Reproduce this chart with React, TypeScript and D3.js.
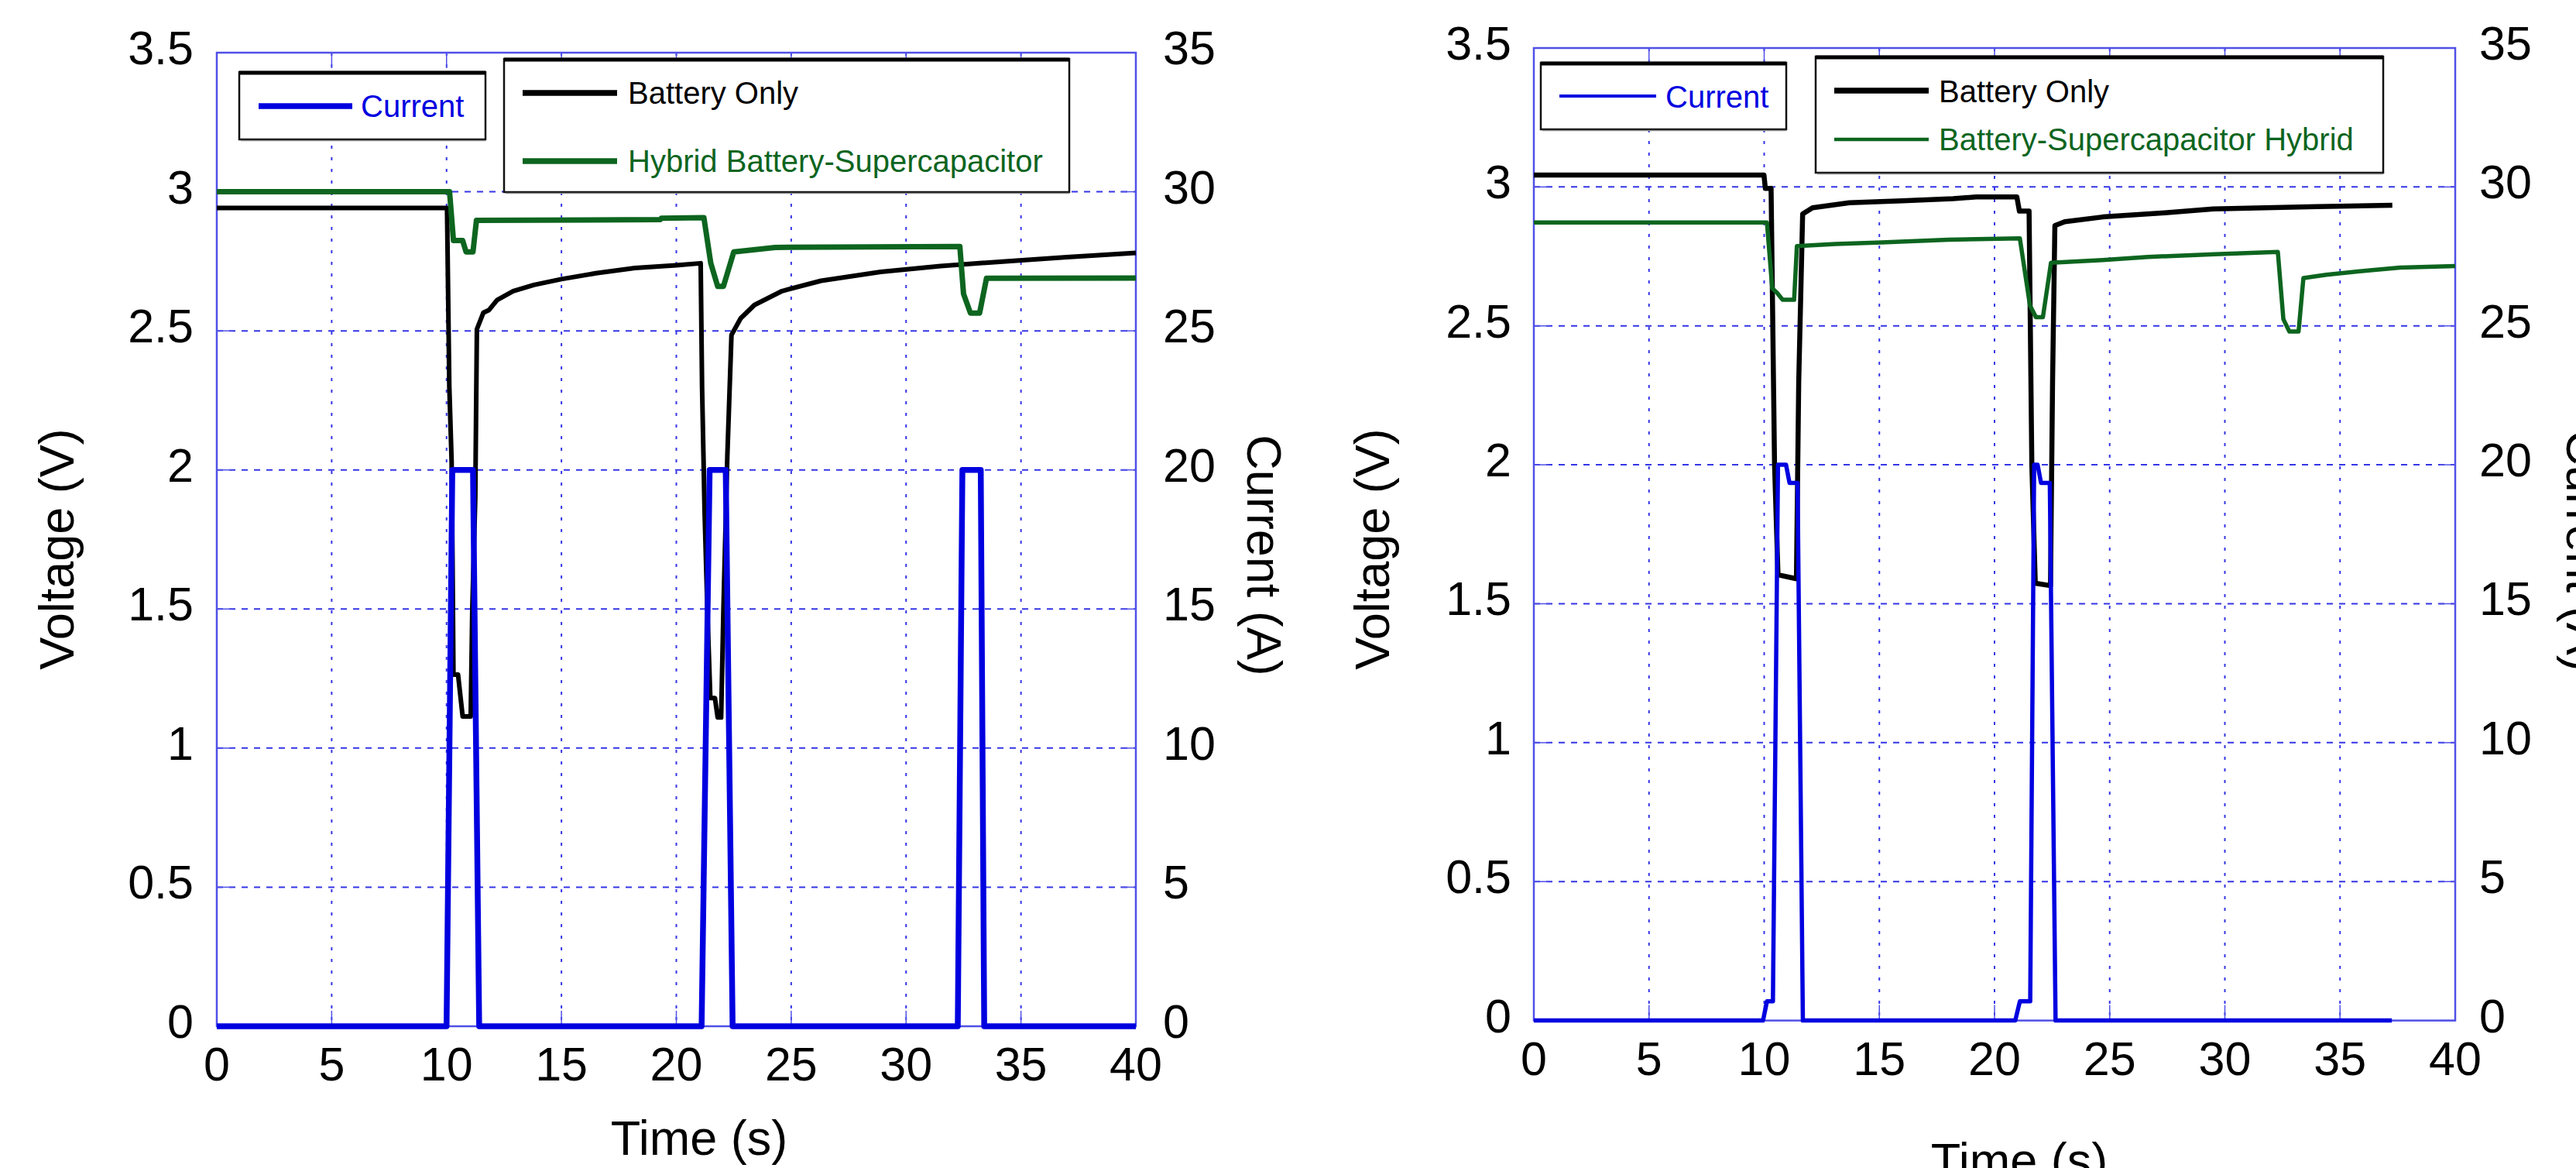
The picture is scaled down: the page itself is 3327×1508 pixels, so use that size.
import React from 'react';
import * as d3 from 'd3';

// ---------- data ----------
const timeTicks = [0, 5, 10, 15, 20, 25, 30, 35, 40];
const voltTicks = [0, 0.5, 1, 1.5, 2, 2.5, 3, 3.5];
const voltTickLabels = ['0', '0.5', '1', '1.5', '2', '2.5', '3', '3.5'];
const currentTicks = [0, 5, 10, 15, 20, 25, 30, 35];
const gridTimes = [5, 10, 15, 20, 25, 30, 35];
const gridVolts = [0.5, 1, 1.5, 2, 2.5, 3];

// Left panel: [time s, voltage V]
const leftBattery: [number, number][] = [
  [0, 2.942], [10.02, 2.942], [10.12, 2.3], [10.22, 2.03], [10.26, 1.68], [10.3, 1.264], [10.5, 1.264],
  [10.7, 1.114], [11.05, 1.114], [11.12, 1.5], [11.25, 1.9], [11.32, 2.506], [11.6, 2.565], [11.85, 2.575],
  [12.2, 2.611], [12.9, 2.643], [13.8, 2.665], [15.0, 2.686], [16.5, 2.707], [18.2, 2.726], [20.0, 2.736],
  [21.06, 2.743], [21.12, 2.3], [21.23, 1.85], [21.35, 1.5], [21.48, 1.18], [21.68, 1.18], [21.8, 1.11],
  [21.95, 1.11], [22.05, 1.5], [22.22, 2.05], [22.4, 2.485], [22.8, 2.545], [23.4, 2.593], [24.6, 2.643],
  [26.3, 2.68], [28.9, 2.712], [31.5, 2.733], [34.2, 2.749], [37.0, 2.765], [40, 2.78],
];
const leftHybrid: [number, number][] = [
  [0, 3.0], [10.13, 3.0], [10.3, 2.825], [10.7, 2.825], [10.85, 2.784], [11.15, 2.784], [11.3, 2.897],
  [19.3, 2.9], [19.35, 2.905], [21.2, 2.907], [21.5, 2.743], [21.8, 2.66], [22.05, 2.66], [22.5, 2.784],
  [24.3, 2.8], [32.34, 2.803], [32.5, 2.633], [32.8, 2.564], [33.2, 2.564], [33.5, 2.689], [40, 2.69],
];
// [time s, current A]
const leftCurrent: [number, number][] = [
  [0, 0], [10.0, 0], [10.25, 20], [11.15, 20], [11.42, 0], [21.1, 0], [21.45, 20], [22.15, 20],
  [22.45, 0], [32.25, 0], [32.45, 20], [33.25, 20], [33.4, 0], [40, 0],
];

// Right panel
const rightBattery: [number, number][] = [
  [0, 3.043], [9.99, 3.043], [10.05, 2.995], [10.3, 2.995], [10.45, 2.0], [10.6, 1.604], [11.4, 1.59],
  [11.5, 2.3], [11.67, 2.903], [12.1, 2.925], [13.7, 2.943], [16.0, 2.95], [18.2, 2.958], [19.2, 2.964],
  [20.97, 2.964], [21.08, 2.913], [21.5, 2.913], [21.62, 2.0], [21.77, 1.574], [22.43, 1.565],
  [22.52, 2.3], [22.62, 2.861], [23.05, 2.875], [24.7, 2.892], [27.4, 2.907], [29.5, 2.921],
  [34.0, 2.929], [37.27, 2.934],
];
const rightHybrid: [number, number][] = [
  [0, 2.872], [10.12, 2.872], [10.35, 2.635], [10.55, 2.62], [10.8, 2.594], [11.3, 2.594], [11.42, 2.787],
  [13.1, 2.795], [15.1, 2.8], [18.0, 2.81], [21.1, 2.815], [21.54, 2.573], [21.8, 2.531], [22.1, 2.531],
  [22.45, 2.727], [24.7, 2.737], [26.66, 2.748], [29.55, 2.758], [32.3, 2.766], [32.54, 2.524],
  [32.8, 2.48], [33.2, 2.48], [33.41, 2.672], [34.4, 2.684], [36.3, 2.7], [37.6, 2.71], [40, 2.715],
];
const rightCurrent: [number, number][] = [
  [0, 0], [9.95, 0], [10.12, 0.69], [10.38, 0.69], [10.6, 20], [10.95, 20], [11.1, 19.35], [11.45, 19.35],
  [11.68, 0], [20.9, 0], [21.1, 0.69], [21.55, 0.69], [21.72, 20], [21.87, 20], [22.02, 19.35],
  [22.4, 19.35], [22.65, 0], [37.25, 0],
];

const legendLeft = ['Current', 'Battery Only', 'Hybrid Battery-Supercapacitor'];
const legendRight = ['Current', 'Battery Only', 'Battery-Supercapacitor Hybrid'];

// ---------- style ----------
const FONT = '"Liberation Sans", Arial, Helvetica, sans-serif';
const BLUE = '#0000e0';
const GREEN = '#0d651f';
const GRID = '#3535e6';
const AXIS = '#5050e8';

type Cfg = {
  x0: number; x1: number; yT: number; yB: number;
  battery: [number, number][]; hybrid: [number, number][]; current: [number, number][];
  wB: number; wH: number; wC: number;
  labels: string[];
  box1: { x: number; y: number; w: number; h: number; lx0: number; lx1: number; ly: number; tx: number; tb: number };
  box2: { x: number; y: number; w: number; h: number; lx0: number; lx1: number; ly1: number; tb1: number; ly2: number; tb2: number; tx: number };
  lw: [number, number, number];
  vLabel: [number, number]; cLabel: [number, number]; tLabel: [number, number];
  leftOff: number; rightOff: number;
};

const panels: Cfg[] = [
  {
    x0: 280, x1: 1467, yT: 68, yB: 1325,
    battery: leftBattery, hybrid: leftHybrid, current: leftCurrent,
    wB: 6, wH: 7, wC: 7.5,
    labels: legendLeft,
    box1: { x: 309, y: 93, w: 318, h: 87, lx0: 334, lx1: 455, ly: 137, tx: 466, tb: 151 },
    box2: { x: 651, y: 76, w: 730, h: 172, lx0: 675, lx1: 797, ly1: 120, tb1: 134, ly2: 208, tb2: 222, tx: 811 },
    lw: [7.5, 7.5, 7.5],
    vLabel: [76, 709], cLabel: [1630, 717], tLabel: [903, 1491],
    leftOff: 30, rightOff: 35,
  },
  {
    x0: 1981, x1: 3171, yT: 62, yB: 1317.6,
    battery: rightBattery, hybrid: rightHybrid, current: rightCurrent,
    wB: 6.5, wH: 5.5, wC: 5.5,
    labels: legendRight,
    box1: { x: 1990, y: 81, w: 317, h: 86, lx0: 2014, lx1: 2139, ly: 124, tx: 2151, tb: 139 },
    box2: { x: 2345, y: 73, w: 733, h: 150, lx0: 2369, lx1: 2491, ly1: 117, tb1: 132, ly2: 180, tb2: 194, tx: 2504 },
    lw: [4, 7.5, 4.5],
    vLabel: [1775, 709], cLabel: [3334, 711], tLabel: [2608, 1520],
    leftOff: 29, rightOff: 31,
  },
];

function Box({ x, y, w, h }: { x: number; y: number; w: number; h: number }) {
  return (
    <g>
      <rect x={x} y={y} width={w} height={h} fill="#fff" stroke="#111" strokeWidth={2.5} />
      <line x1={x} x2={x + w} y1={y + 1} y2={y + 1} stroke="#000" strokeWidth={5} />
      <line x1={x + 2} x2={x + w} y1={y + h + 1.5} y2={y + h + 1.5} stroke="#888" strokeWidth={1.5} />
    </g>
  );
}

function Panel({ c }: { c: Cfg }) {
  const x = d3.scaleLinear().domain([0, 40]).range([c.x0, c.x1]);
  const yV = d3.scaleLinear().domain([0, 3.5]).range([c.yB, c.yT]);
  const yI = d3.scaleLinear().domain([0, 35]).range([c.yB, c.yT]);
  const lineV = d3.line<[number, number]>().x(d => x(d[0])).y(d => yV(d[1]));
  const lineI = d3.line<[number, number]>().x(d => x(d[0])).y(d => yI(d[1]));
  const tick = 20;
  const b1 = c.box1, b2 = c.box2;
  return (
    <g>
      {/* grid */}
      {gridTimes.map(t => (
        <line key={'gv' + t} x1={x(t)} x2={x(t)} y1={c.yT} y2={c.yB} stroke={GRID} strokeWidth={2} strokeDasharray="4 11" />
      ))}
      {gridVolts.map(v => (
        <line key={'gh' + v} x1={c.x0} x2={c.x1} y1={yV(v)} y2={yV(v)} stroke={GRID} strokeWidth={2} strokeDasharray="8 8" />
      ))}
      {/* ticks */}
      {timeTicks.map(t => (
        <g key={'tt' + t}>
          <line x1={x(t)} x2={x(t)} y1={c.yB} y2={c.yB - tick} stroke={AXIS} strokeWidth={1.5} />
          <line x1={x(t)} x2={x(t)} y1={c.yT} y2={c.yT + tick} stroke={AXIS} strokeWidth={1.5} />
        </g>
      ))}
      {voltTicks.map(v => (
        <line key={'vt' + v} x1={c.x0} x2={c.x0 + tick} y1={yV(v)} y2={yV(v)} stroke={AXIS} strokeWidth={1.5} />
      ))}
      {currentTicks.map(i => (
        <line key={'ct' + i} x1={c.x1} x2={c.x1 - tick} y1={yI(i)} y2={yI(i)} stroke={AXIS} strokeWidth={1.5} />
      ))}
      {/* axes box */}
      <rect x={c.x0} y={c.yT} width={c.x1 - c.x0} height={c.yB - c.yT} fill="none" stroke={AXIS} strokeWidth={2.5} />
      {/* series */}
      <path d={lineV(c.battery) || ''} fill="none" stroke="#000" strokeWidth={c.wB} strokeLinejoin="round" />
      <path d={lineV(c.hybrid) || ''} fill="none" stroke={GREEN} strokeWidth={c.wH} strokeLinejoin="round" />
      <path d={lineI(c.current) || ''} fill="none" stroke={BLUE} strokeWidth={c.wC} strokeLinejoin="round" />
      {/* tick labels */}
      <g fontFamily={FONT} fontSize={61} fill="#000">
        {timeTicks.map(t => (
          <text key={'xl' + t} x={x(t)} y={c.yB + 70} textAnchor="middle">{t}</text>
        ))}
        {voltTicks.map((v, i) => (
          <text key={'yl' + v} x={c.x0 - c.leftOff} y={yV(v) + 15} textAnchor="end">{voltTickLabels[i]}</text>
        ))}
        {currentTicks.map(i => (
          <text key={'il' + i} x={c.x1 + c.rightOff} y={yI(i) + 15} textAnchor="start">{i}</text>
        ))}
      </g>
      {/* axis titles */}
      <g fontFamily={FONT} fontSize={63} fill="#000">
        <text transform={`translate(${c.vLabel[0]},${c.vLabel[1]}) rotate(-90)`} textAnchor="middle" dy="0.3em">Voltage (V)</text>
        <text transform={`translate(${c.cLabel[0]},${c.cLabel[1]}) rotate(90)`} textAnchor="middle" dy="0.3em">Current (A)</text>
        <text x={c.tLabel[0]} y={c.tLabel[1]} textAnchor="middle">Time (s)</text>
      </g>
      {/* legends */}
      <Box x={b1.x} y={b1.y} w={b1.w} h={b1.h} />
      <line x1={b1.lx0} x2={b1.lx1} y1={b1.ly} y2={b1.ly} stroke={BLUE} strokeWidth={c.lw[0]} />
      <text x={b1.tx} y={b1.tb} fontFamily={FONT} fontSize={40} fill={BLUE}>{c.labels[0]}</text>
      <Box x={b2.x} y={b2.y} w={b2.w} h={b2.h} />
      <line x1={b2.lx0} x2={b2.lx1} y1={b2.ly1} y2={b2.ly1} stroke="#000" strokeWidth={c.lw[1]} />
      <text x={b2.tx} y={b2.tb1} fontFamily={FONT} fontSize={40} fill="#000">{c.labels[1]}</text>
      <line x1={b2.lx0} x2={b2.lx1} y1={b2.ly2} y2={b2.ly2} stroke={GREEN} strokeWidth={c.lw[2]} />
      <text x={b2.tx} y={b2.tb2} fontFamily={FONT} fontSize={40} fill={GREEN}>{c.labels[2]}</text>
    </g>
  );
}

export default function App() {
  return (
    <div>
      <style>{'html,body{margin:0;padding:0;overflow:hidden;background:#fff}'}</style>
      <svg width={3327} height={1508} viewBox="0 0 3327 1508" style={{ position: 'absolute', left: 0, top: 0, background: '#fff' }}>
        <rect x={0} y={0} width={3327} height={1508} fill="#fff" />
        {panels.map((c, i) => <Panel key={i} c={c} />)}
      </svg>
    </div>
  );
}
